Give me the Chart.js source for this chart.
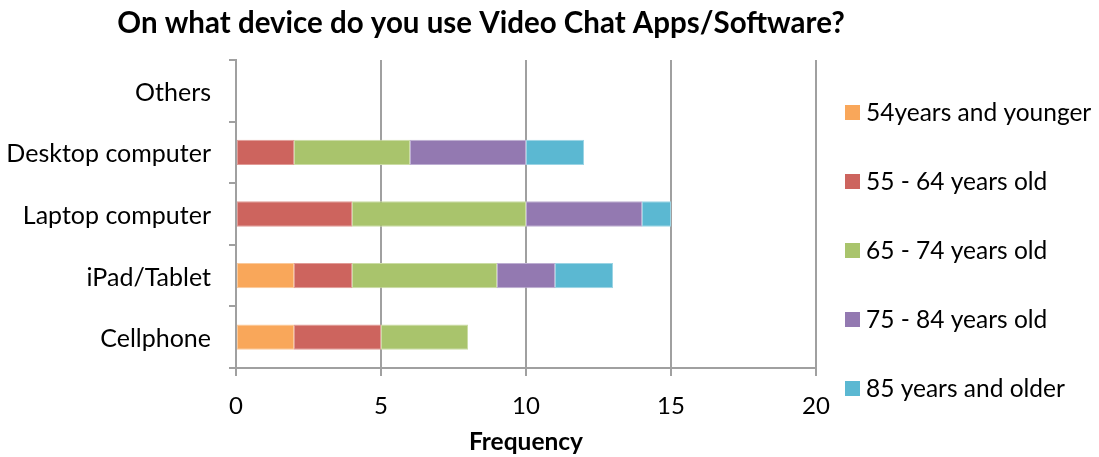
<!DOCTYPE html>
<html>
<head>
<meta charset="utf-8">
<title>Video chat devices</title>
<script src="https://cdn.jsdelivr.net/npm/chart.js@4.4.1/dist/chart.umd.min.js"></script>
<style>
  html, body { margin: 0; padding: 0; background: #fff; }
  #wrap { width: 1099px; height: 457px; }
</style>
</head>
<body>
<div id="wrap"><canvas id="BarChart" width="1099" height="457"></canvas></div>
<script>
// categories, top to bottom
var devices = ['Others', 'Desktop computer', 'Laptop computer', 'iPad/Tablet', 'Cellphone'];

// one array per age group, same order as devices
var age54under = [0, 0, 0, 2, 2];
var age55to64  = [0, 2, 4, 2, 3];
var age65to74  = [0, 4, 6, 5, 3];
var age75to84  = [0, 4, 4, 2, 0];
var age85over  = [0, 2, 1, 2, 0];

var groupNames  = ['54years and younger', '55 - 64 years old', '65 - 74 years old', '75 - 84 years old', '85 years and older'];
var groupColors = ['#F9A75A', '#CD645E', '#A9C46C', '#9379B1', '#5BB8D2'];
var groupEdges  = ['#FBC99A', '#E19B96', '#CBDCA4', '#BDAED2', '#9BD4E4'];

var xTicks = [0, 5, 10, 15, 20];
var chartTitle = 'On what device do you use Video Chat Apps/Software?';
var xTitle = 'Frequency';

var FONT = 'Lato, "DejaVu Sans", sans-serif';
var GRID = '#A0A0A0';

var series = [age54under, age55to64, age65to74, age75to84, age85over];
var datasets = series.map(function (vals, i) {
  return {
    label: groupNames[i],
    data: vals,
    backgroundColor: groupColors[i],
    borderColor: groupEdges[i],
    borderWidth: function (ctx) { return ctx.raw ? 1 : 0; },
    borderSkipped: false,
    categoryPercentage: 1,
    barPercentage: 0.41
  };
});

// title sits over the plot, a bit left of the page centre
var topTitle = {
  id: 'topTitle',
  afterDraw: function (chart) {
    var c = chart.ctx;
    c.save();
    c.font = 'bold 29.5px ' + FONT;
    c.fillStyle = '#000';
    c.textAlign = 'center';
    c.textBaseline = 'middle';
    c.fillText(chartTitle, 481, 23);
    c.restore();
  }
};

// legend column on the right, one entry per dataset
var sideLegend = {
  id: 'sideLegend',
  afterDraw: function (chart) {
    var c = chart.ctx;
    var x = chart.chartArea.right + 29;
    c.save();
    c.font = '24.5px ' + FONT;
    c.textBaseline = 'middle';
    c.textAlign = 'left';
    chart.data.datasets.forEach(function (ds, i) {
      var y = 112.5 + i * 69;
      c.fillStyle = ds.backgroundColor;
      c.fillRect(x, y - 7.5, 15, 15);
      c.fillStyle = '#000';
      c.fillText(ds.label, x + 21, y + 1);
    });
    c.restore();
  }
};

function draw() {
  new Chart(document.getElementById('BarChart'), {
    type: 'bar',
    data: { labels: devices, datasets: datasets },
    plugins: [topTitle, sideLegend],
    options: {
      indexAxis: 'y',
      responsive: false,
      animation: false,
      devicePixelRatio: 1,
      layout: { padding: { top: 60, right: 283, bottom: 0, left: 0 } },
      plugins: {
        legend: { display: false },
        title: { display: false },
        tooltip: { enabled: false }
      },
      scales: {
        x: {
          stacked: true,
          min: 0,
          max: 20,
          afterBuildTicks: function (scale) {
            scale.ticks = xTicks.map(function (v) { return { value: v }; });
          },
          afterFit: function (scale) { scale.height = 89; },
          grid: { color: GRID, lineWidth: 2, tickLength: 8 },
          border: { color: GRID, width: 2 },
          ticks: { color: '#000', padding: 16, font: { family: FONT, size: 24 } },
          title: {
            display: true,
            text: xTitle,
            color: '#000',
            padding: { top: 4, bottom: 0 },
            font: { family: FONT, size: 24.5, weight: 'bold' }
          }
        },
        y: {
          stacked: true,
          afterFit: function (scale) { scale.width = 236; },
          grid: { color: GRID, lineWidth: 2, tickLength: 7, drawOnChartArea: false, offset: true },
          border: { color: GRID, width: 2 },
          ticks: { color: '#000', padding: 18, labelOffset: 2, font: { family: FONT, size: 25 } }
        }
      }
    }
  });
}

if (document.fonts && document.fonts.load) {
  Promise.all([
    document.fonts.load('25px Lato'),
    document.fonts.load('bold 29.5px Lato')
  ]).then(draw, draw);
} else {
  draw();
}
</script>
</body>
</html>
